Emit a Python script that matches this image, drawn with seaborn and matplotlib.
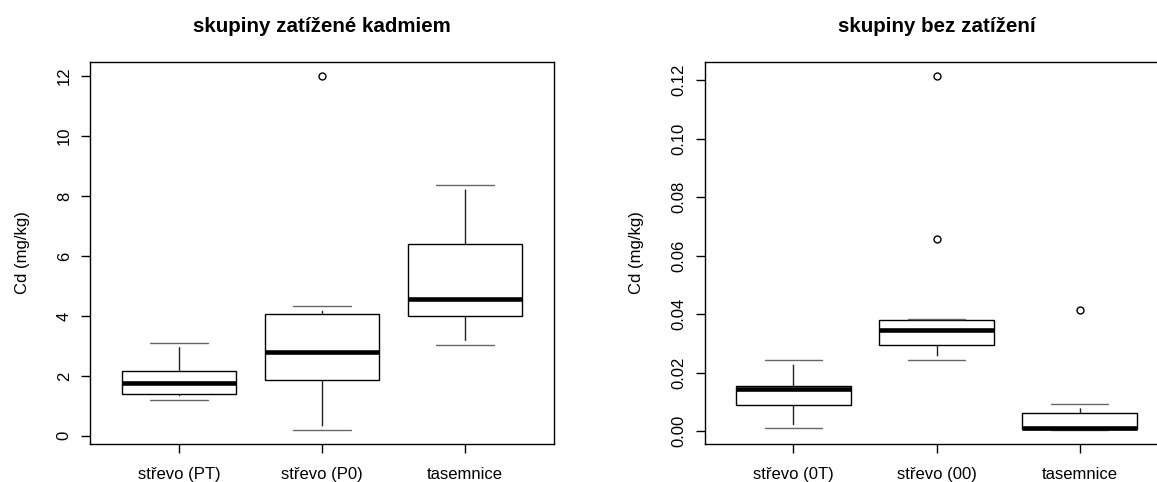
import numpy as np
import pandas as pd
import matplotlib
matplotlib.use("Agg")
import matplotlib.pyplot as plt
import matplotlib.colors as mcolors
import seaborn as sns

# ---- data ----
left_title = "skupiny zatížené kadmiem"
right_title = "skupiny bez zatížení"
y_label = "Cd (mg/kg)"

left_categories = ["střevo (PT)", "střevo (P0)", "tasemnice"]
left_pt = [1.19, 1.385, 1.76, 2.16, 3.11]
left_p0 = [0.20, 1.87, 1.87, 2.81, 2.81, 4.06, 4.06, 4.32, 12.0]
left_tas = [3.04, 3.99, 4.565, 6.40, 8.37]
left_ticks = [0, 2, 4, 6, 8, 10, 12]

right_categories = ["střevo (0T)", "střevo (00)", "tasemnice"]
right_0t = [0.0010, 0.0091, 0.0144, 0.0156, 0.0245]
right_00 = [0.0243, 0.0294, 0.0294, 0.0294, 0.0345, 0.0345, 0.0345,
            0.0381, 0.0381, 0.0381, 0.0384, 0.0657, 0.1214]
right_tas = [0.0005, 0.0008, 0.0008, 0.0011, 0.0011, 0.0061, 0.0061,
             0.0093, 0.0415]
right_ticks = [0.00, 0.02, 0.04, 0.06, 0.08, 0.10, 0.12]


def make_df(cats, series):
    rows = []
    for c, vals in zip(cats, series):
        for v in vals:
            rows.append((c, v))
    return pd.DataFrame(rows, columns=["group", "value"])


sns.set_theme(style="white")
plt.rcParams["font.family"] = ["Liberation Sans", "DejaVu Sans"]

W, H = 1157, 482
DPI = 100
fig = plt.figure(figsize=(W / DPI, H / DPI), dpi=DPI)

ax_l = fig.add_axes([90.3 / W, 1 - 444 / H, 463.5 / W, 382 / H])
ax_r = fig.add_axes([704.8 / W, 1 - 444 / H, 463.5 / W, 382 / H])

WHISK_COLOR = "#222222"
CAP_COLOR = "#666666"

box_kw = dict(
    width=0.8, color="white", linecolor="black", linewidth=1.0,
    fliersize=5,
    flierprops=dict(marker="o", markerfacecolor="none",
                    markeredgecolor="black", markeredgewidth=1.0),
    medianprops=dict(linewidth=3.3, color="black", solid_capstyle="butt"),
    whiskerprops=dict(color=WHISK_COLOR, linewidth=1.0),
    capprops=dict(color=CAP_COLOR, linewidth=1.0),
    boxprops=dict(edgecolor="black", linewidth=1.0),
)

panels = [
    (ax_l, left_categories, [left_pt, left_p0, left_tas], left_ticks, left_title, "{:.0f}"),
    (ax_r, right_categories, [right_0t, right_00, right_tas], right_ticks, right_title, "{:.2f}"),
]

for ax, cats, series, ticks, title, fmt in panels:
    df = make_df(cats, series)
    sns.boxplot(data=df, x="group", y="value", order=cats, ax=ax, **box_kw)
    allv = np.concatenate([np.asarray(s, float) for s in series])
    lo, hi = allv.min(), allv.max()
    ext = (hi - lo) * 0.04
    ax.set_ylim(lo - ext, hi + ext)
    ax.set_xlim(-0.62, len(cats) - 1 + 0.62)
    ax.set_yticks(ticks)
    ax.set_yticklabels([fmt.format(t) for t in ticks], rotation=90, va="center")
    ax.set_xticks(range(len(cats)))
    ax.set_xticklabels(cats)
    ax.tick_params(axis="both", which="major", direction="out", length=6.5,
                   width=1.0, color="black", labelsize=12, labelcolor="black",
                   bottom=True, left=True)
    ax.tick_params(axis="x", pad=10)
    ax.tick_params(axis="y", pad=6.8)
    ax.set_xlabel("")
    ax.set_ylabel(y_label, fontsize=12, va="center", color="black")
    ax.yaxis.set_label_coords(-0.147, 0.5)
    ax.set_title(title, fontsize=14.8, fontweight="bold", pad=21.4, color="black")
    for s in ax.spines.values():
        s.set_visible(True)
        s.set_color("black")
        s.set_linewidth(1.0)

# R-style dashed whiskers: at this size they read as a solid line that stops
# a few pixels short of the staple.
GAP_PT = 3.0
wc = mcolors.to_rgba(WHISK_COLOR)
for ax in (ax_l, ax_r):
    for line in ax.lines:
        if mcolors.to_rgba(line.get_color()) != wc:
            continue
        xy = ax.transData.transform(line.get_xydata())
        if len(xy) < 2:
            continue
        length_px = float(np.hypot(*(xy[-1] - xy[0])))
        length_pt = length_px * 72.0 / DPI
        on = max(length_pt - GAP_PT, 0.01)
        line.set_linestyle((0, (on, 1000.0)))

fig.savefig("out.png", dpi=DPI, facecolor="white")
